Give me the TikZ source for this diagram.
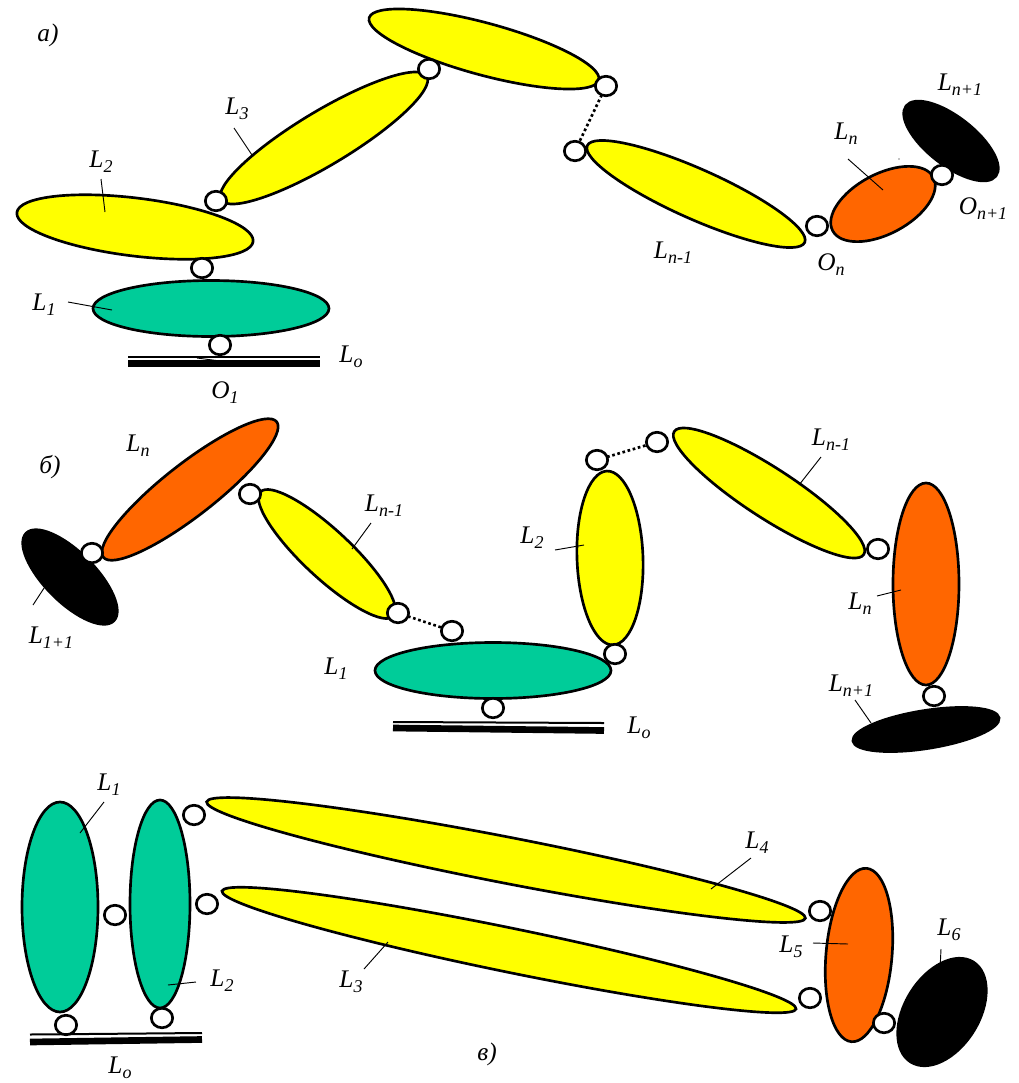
\documentclass[tikz,border=0pt]{standalone}
\usepackage{fontspec}
\setmainfont{Liberation Serif}
\usetikzlibrary{shapes.geometric}
\definecolor{yel}{RGB}{255,255,0}
\definecolor{grn}{RGB}{0,204,153}
\definecolor{org}{RGB}{255,102,0}
\newcommand\sbs[1]{\raisebox{-3.6pt}{\fontsize{13.5}{14}\selectfont #1}}
\tikzset{
  x=0.75pt,y=-0.75pt,
  ell/.style n args={3}{ellipse,draw=black,line width=2pt,inner sep=0pt,outer sep=0pt,minimum width=#1*1.5pt,minimum height=#2*1.5pt,fill=#3},
  joint/.style={ellipse,draw=black,line width=2pt,fill=white,inner sep=0pt,outer sep=0pt,minimum width=16pt,minimum height=14.6pt},
  lab/.style={font=\fontsize{19}{21}\selectfont\itshape,inner sep=0pt},
  leader/.style={line width=0.7pt},
  thinln/.style={line width=1.5pt},
  thickln/.style={line width=5pt},
  dots/.style={line width=2pt,dash pattern=on 2pt off 2pt}
}
\begin{document}
\begin{tikzpicture}
\useasboundingbox (0,0) rectangle (1019,1083);
\fill[white] (0,0) rectangle (1019,1083);
% --- a ---
\node[lab] (ta) at (48,35) {a)};
\node[ell={119}{26}{yel},rotate=-15.2] (a5) at (484,49) {};
\node[ell={120}{27}{yel},rotate=31] (a3) at (324,138) {};
\node[ell={119}{29}{yel},rotate=-7] (a2) at (135,227) {};
\node[ell={118}{28}{grn}] (a1) at (211,308.5) {};
\node[ell={119}{25}{yel},rotate=-24] (a6) at (696,194) {};
\node[ell={57}{30}{org},rotate=28] (a7) at (883,204) {};
\node[ell={57}{24}{black},rotate=-38] (a8) at (951,141) {};
\node[joint] (j1) at (429,69) {};
\node[joint] (j2) at (606,86) {};
\node[joint] (j3) at (575,151) {};
\node[joint] (j4) at (216,201) {};
\node[joint] (j5) at (202,268) {};
\node[joint] (j6) at (220,345) {};
\node[joint] (j7) at (817,226) {};
\node[joint] (j8) at (942,175) {};
\draw[dots] (j2) -- (j3);
\coordinate (g1a) at (128,357); \coordinate (g1b) at (320,357);
\coordinate (g2a) at (128,363.5); \coordinate (g2b) at (320,363.5);
\coordinate (g1c) at (197,358); \coordinate (g1d) at (220,361);
\draw[thinln] (g1a) -- (g1b);
\draw[thickln] (g2a) -- (g2b);
\draw[leader] (g1c) -- (g1d);
\node[lab] (lL3) at (237,109) {L\sbs{3}};
\node[lab] (lL2) at (101,162) {L\sbs{2}};
\node[lab] (lL1) at (44,305) {L\sbs{1}};
\node[lab] (lL0) at (351,357) {L\sbs{o}};
\node[lab] (lO1) at (225,393) {O\sbs{1}};
\node[lab] (lLn1) at (673,253) {L\sbs{n-1}};
\node[lab] (lOn) at (831,265) {O\sbs{n}};
\node[lab] (lLn) at (846,134) {L\sbs{n}};
\node[lab] (lLnp) at (960,85) {L\sbs{n+1}};
\node[lab] (lOnp) at (983,209) {O\sbs{n+1}};
\coordinate (e1) at (252,155); \coordinate (e2) at (105,212); \coordinate (e3) at (112,310); \coordinate (e4) at (883,190);
\coordinate (e5) at (899,159);
\draw[leader] (lL3) ++(-3,19) -- (e1);
\draw[leader] (lL2) ++(0,17) -- (e2);
\draw[leader] (lL1) ++(24,-3) -- (e3);
\draw[leader] (lLn) ++(2,25) -- (e4);
\fill (e5) circle (0.7);
% --- b ---
\node[lab] (tb) at (50,467) {б)};
\node[ell={110}{26}{org},rotate=38] (b1) at (190,489.5) {};
\node[ell={62}{25}{black},rotate=-45] (b2) at (70,577) {};
\node[ell={91}{24}{yel},rotate=-43] (b3) at (327,554) {};
\node[ell={118}{28}{grn}] (b4) at (493,670.5) {};
\node[ell={33}{87}{yel},rotate=2] (b5) at (610,558) {};
\node[ell={113}{25}{yel},rotate=-33] (b6) at (769,493) {};
\node[ell={33}{101}{org}] (b7) at (926,584) {};
\node[ell={74}{19}{black},rotate=9] (b8) at (926,729.5) {};
\node[joint] (k1) at (92,553) {};
\node[joint] (k2) at (250,494) {};
\node[joint] (k3) at (398,613) {};
\node[joint] (k4) at (452,631) {};
\node[joint] (k5) at (493,708) {};
\node[joint] (k6) at (615,654) {};
\node[joint] (k7) at (597,460) {};
\node[joint] (k8) at (657,442) {};
\node[joint] (k9) at (878,549) {};
\node[joint] (k10) at (934,696) {};
\draw[dots] (k3) -- (k4);
\draw[dots] (k7) -- (k8);
\coordinate (g3a) at (393,722); \coordinate (g3b) at (604,723);
\coordinate (g4a) at (393,728); \coordinate (g4b) at (604,730.5);
\draw[thinln] (g3a) -- (g3b);
\draw[thickln] (g4a) -- (g4b);
\node[lab] (mLn) at (138,446) {L\sbs{n}};
\node[lab] (mLp) at (51,638) {L\sbs{1+1}};
\node[lab] (mLn1) at (384,506) {L\sbs{n-1}};
\node[lab] (mL1) at (336,669) {L\sbs{1}};
\node[lab] (mL2) at (532,538) {L\sbs{2}};
\node[lab] (mL0) at (639,728) {L\sbs{o}};
\node[lab] (mLn1b) at (831,440) {L\sbs{n-1}};
\node[lab] (mLnb) at (860,604) {L\sbs{n}};
\node[lab] (mLnp) at (851,686) {L\sbs{n+1}};
\coordinate (f1) at (48,582); \coordinate (f2) at (352,549); \coordinate (f3) at (584,545); \coordinate (f4) at (799,485); \coordinate (f5) at (901,590); \coordinate (f6) at (871,723);
\draw[leader] (mLp) ++(-18,-33) -- (f1);
\draw[leader] (mLn1) ++(-13,17) -- (f2);
\draw[leader] (mL2) ++(23,12) -- (f3);
\draw[leader] (mLn1b) ++(-10,17) -- (f4);
\draw[leader] (mLnb) ++(17,-8) -- (f5);
\draw[leader] (mLnp) ++(4,14) -- (f6);
% --- c ---
\node[lab] (tc) at (487,1054) {в)};
\node[ell={38}{105}{grn}] (c1) at (60,907) {};
\node[ell={30}{104}{grn}] (c2) at (160,904) {};
\node[ell={305}{23}{yel},rotate=-11] (c3) at (506,860) {};
\node[ell={293}{22}{yel},rotate=-11.6] (c4) at (509,950) {};
\node[ell={33}{87}{org},rotate=-5] (c5) at (859,955) {};
\node[ell={59}{37}{black},rotate=58] (c6) at (942,1012) {};
\node[joint] (m1) at (115,915) {};
\node[joint] (m2) at (194,815) {};
\node[joint] (m3) at (207,904) {};
\node[joint] (m4) at (66,1025) {};
\node[joint] (m5) at (162,1018) {};
\node[joint] (m6) at (820,911) {};
\node[joint] (m7) at (810,998) {};
\node[joint] (m8) at (884,1023) {};
\coordinate (g5a) at (30,1034.5); \coordinate (g5b) at (202,1033);
\coordinate (g6a) at (30,1042); \coordinate (g6b) at (202,1039.5);
\draw[thinln] (g5a) -- (g5b);
\draw[thickln] (g6a) -- (g6b);
\node[lab] (nL1) at (109,785) {L\sbs{1}};
\node[lab] (nL2) at (222,981) {L\sbs{2}};
\node[lab] (nL3) at (351,982) {L\sbs{3}};
\node[lab] (nL4) at (757,843) {L\sbs{4}};
\node[lab] (nL5) at (791,947) {L\sbs{5}};
\node[lab] (nL6) at (949,930) {L\sbs{6}};
\node[lab] (nL0) at (120,1068) {L\sbs{o}};
\coordinate (h1) at (80,833); \coordinate (h2) at (168,985); \coordinate (h3) at (388,942); \coordinate (h4) at (711,889); \coordinate (h5) at (848,944); \coordinate (h6) at (940,970);
\draw[leader] (nL1) ++(-5,17) -- (h1);
\draw[leader] (nL2) ++(-26,1) -- (h2);
\draw[leader] (nL3) ++(13,-13) -- (h3);
\draw[leader] (nL4) ++(-6,15) -- (h4);
\draw[leader] (nL5) ++(22,-4) -- (h5);
\draw[leader] (nL6) ++(-8,19) -- (h6);
\end{tikzpicture}
\end{document}
